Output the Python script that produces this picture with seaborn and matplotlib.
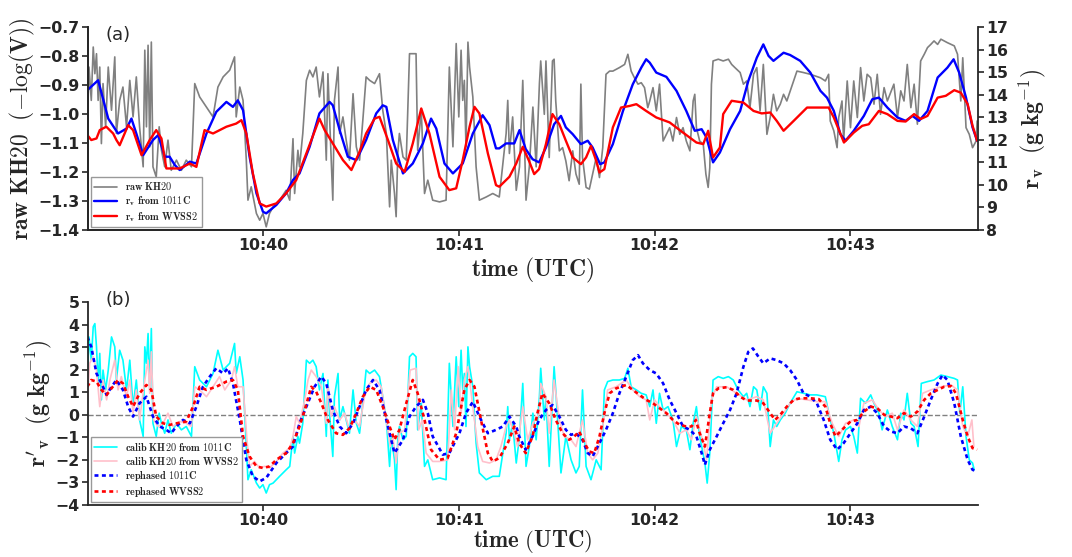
import numpy as np
import matplotlib
matplotlib.use("Agg")
import matplotlib.pyplot as plt
from matplotlib.ticker import FuncFormatter, MultipleLocator
import seaborn as sns

# Zeit in Sekunden nach 10:39:00 UTC

# (a) raw KH20 in -log(V)
raw_kh20 = np.array([
    [6.2, -1.044], [6.7, -0.838], [7.4, -0.953], [8.0, -0.769], [8.5, -0.861], [9.0, -0.792],
    [9.5, -0.953], [10.0, -0.838], [10.5, -1.102], [11.0, -0.895], [11.8, -1.044], [12.6, -0.838],
    [13.6, -0.987], [14.6, -0.803], [15.1, -1.067], [16.1, -0.953], [17.1, -0.907], [18.2, -1.044],
    [19.2, -0.884], [20.2, -1.010], [21.2, -0.872], [22.2, -1.044], [23.3, -1.182], [23.8, -0.780],
    [24.3, -1.044], [24.8, -0.763], [25.3, -1.113], [25.8, -0.752], [26.3, -1.182], [27.3, -1.217],
    [28.2, -1.044], [28.9, -1.125], [29.9, -1.182], [30.9, -1.090], [31.9, -1.194], [33.5, -1.159],
    [35.0, -1.194], [36.5, -1.159], [38.1, -1.182], [39.1, -0.895], [40.6, -0.941], [42.7, -0.976],
    [44.7, -1.010], [46.2, -0.907], [47.8, -0.872], [49.8, -0.849], [51.3, -0.803], [51.8, -1.010],
    [52.9, -0.907], [53.9, -0.953], [54.9, -1.159], [55.4, -1.297], [56.4, -1.251], [58.0, -1.343],
    [59.0, -1.366], [60.0, -1.343], [61.0, -1.389], [62.0, -1.343], [63.1, -1.320], [65.1, -1.297],
    [67.1, -1.263], [68.2, -1.297], [69.2, -1.085], [69.7, -1.274], [70.7, -1.125], [71.2, -1.182],
    [72.2, -1.067], [73.3, -0.884], [74.3, -0.849], [75.3, -0.872], [76.3, -0.838], [77.3, -0.941],
    [78.4, -0.855], [79.4, -1.159], [79.9, -0.861], [80.4, -1.010], [81.4, -1.297], [81.9, -0.953],
    [83.0, -0.838], [83.5, -1.067], [84.5, -1.010], [85.5, -1.090], [86.5, -1.159], [87.6, -0.930],
    [88.6, -1.113], [89.6, -1.159], [90.6, -1.021], [91.6, -0.872], [92.7, -0.884], [94.2, -0.895],
    [95.7, -0.861], [96.7, -0.987], [97.8, -1.067], [98.8, -1.320], [99.3, -1.159], [100.3, -1.274],
    [100.8, -1.354], [101.3, -1.136], [101.8, -1.067], [102.9, -1.148], [103.9, -1.159], [104.9, -0.792],
    [105.9, -0.792], [106.9, -0.792], [107.4, -1.125], [108.5, -0.987], [109.5, -1.274], [110.5, -1.228],
    [112.0, -1.297], [114.1, -1.303], [116.1, -1.297], [117.1, -0.838], [118.2, -1.113], [119.2, -0.757],
    [120.0, -1.010], [120.7, -0.780], [121.2, -0.953], [121.7, -0.884], [122.2, -1.113], [122.8, -0.752],
    [123.3, -0.838], [124.3, -0.941], [125.3, -1.182], [126.3, -1.297], [128.4, -1.286], [130.4, -1.274],
    [132.4, -1.286], [133.5, -1.171], [134.5, -1.067], [135.0, -0.953], [135.5, -1.136], [136.5, -1.010],
    [137.6, -1.263], [138.6, -1.182], [139.6, -0.884], [140.6, -1.297], [141.6, -1.182], [142.7, -0.976],
    [143.7, -1.182], [144.7, -0.895], [145.1, -0.817], [146.2, -1.001], [146.7, -0.817], [147.7, -1.150],
    [148.7, -0.817], [149.2, -0.811], [149.7, -0.955], [150.8, -1.127], [151.8, -1.116], [152.8, -1.162],
    [153.8, -1.230], [154.9, -1.127], [155.9, -1.207], [156.9, -1.242], [157.4, -0.897], [157.9, -1.150],
    [159.0, -1.253], [160.0, -1.259], [161.0, -1.207], [162.1, -1.150], [163.1, -1.219], [164.1, -1.116],
    [165.1, -0.863], [166.2, -0.852], [167.2, -0.852], [169.2, -0.840], [170.8, -0.829], [171.8, -0.794],
    [172.8, -0.852], [173.8, -0.875], [174.9, -0.897], [175.9, -0.892], [176.9, -0.909], [177.9, -0.978],
    [178.5, -0.955], [179.5, -0.909], [180.5, -0.989], [181.5, -0.897], [182.6, -1.093], [183.6, -1.070],
    [184.6, -1.047], [185.6, -1.093], [186.7, -1.012], [187.7, -1.070], [188.7, -1.047], [189.7, -1.093],
    [190.8, -1.127], [191.8, -0.955], [192.3, -0.932], [192.8, -1.047], [193.8, -1.093], [194.9, -1.104],
    [195.7, -1.207], [196.4, -1.253], [196.9, -1.185], [197.4, -0.897], [197.9, -0.817], [199.5, -0.811],
    [201.0, -0.817], [202.6, -0.811], [203.6, -0.829], [204.6, -0.840], [206.2, -0.857], [207.2, -0.897],
    [208.2, -0.886], [209.2, -0.978], [210.3, -0.863], [211.3, -0.840], [212.3, -0.989], [213.3, -0.829],
    [214.4, -1.070], [215.4, -1.012], [216.4, -0.932], [217.4, -0.989], [218.5, -0.966], [219.5, -0.932],
    [220.5, -0.955], [222.6, -0.886], [223.6, -0.852], [225.6, -0.857], [227.7, -0.863], [229.2, -0.869],
    [230.8, -0.875], [232.3, -0.886], [233.3, -0.863], [233.8, -1.024], [234.9, -1.058], [235.9, -1.116],
    [236.4, -1.012], [237.4, -0.955], [237.9, -1.093], [239.0, -0.886], [240.0, -1.047], [241.0, -0.886],
    [242.1, -1.012], [243.1, -0.840], [244.1, -0.955], [245.1, -0.863], [246.2, -0.875], [247.2, -0.966],
    [248.2, -0.863], [249.2, -1.001], [250.3, -0.909], [251.3, -0.955], [253.3, -0.897], [254.4, -1.012],
    [255.4, -0.920], [256.4, -0.955], [257.4, -0.829], [258.5, -0.978], [259.5, -0.897], [260.5, -1.035],
    [261.5, -0.817], [262.6, -0.794], [263.6, -0.771], [264.6, -0.760], [265.6, -0.748], [266.7, -0.760],
    [267.7, -0.742], [269.7, -0.754], [271.8, -0.765], [272.8, -0.794], [273.8, -0.955], [274.4, -0.806],
    [275.4, -1.047], [276.4, -1.070], [277.4, -1.116], [278.5, -1.093], [278.8, -1.024],
])

# (a) r_v in g/kg
rv_1011c = np.array([
    [6.2, 14.20], [9.5, 14.64], [12.6, 12.94], [15.6, 12.28], [18.2, 12.50], [19.7, 12.94],
    [21.2, 12.28], [23.3, 11.32], [26.3, 11.99], [27.9, 12.21], [29.9, 11.25], [31.4, 11.25],
    [33.0, 10.88], [34.5, 10.66], [37.6, 11.03], [39.6, 10.95], [42.7, 12.28], [45.7, 13.24],
    [48.8, 13.68], [50.8, 13.46], [52.3, 13.75], [53.9, 13.31], [55.9, 11.25], [58.0, 9.63],
    [60.0, 8.81], [61.0, 8.74], [64.1, 9.11], [67.1, 9.63], [69.2, 10.22], [71.2, 10.51],
    [74.3, 11.69], [77.3, 13.17], [80.4, 13.68], [81.4, 13.53], [83.5, 12.43], [86.0, 11.25],
    [88.6, 11.10], [91.6, 11.99], [94.7, 13.17], [96.7, 13.53], [97.8, 13.46], [99.8, 11.99],
    [102.9, 10.51], [105.9, 10.95], [109.0, 11.84], [111.5, 12.94], [113.1, 12.50], [115.6, 10.95],
    [118.2, 10.51], [121.2, 10.95], [124.3, 12.28], [127.3, 13.09], [129.4, 12.65], [131.4, 11.62],
    [132.4, 11.62], [134.5, 11.84], [137.0, 11.84], [138.6, 12.43], [140.5, 11.59], [142.6, 11.14],
    [144.6, 11.00], [146.7, 11.66], [149.2, 12.69], [151.3, 13.06], [152.8, 12.55], [154.9, 12.25],
    [157.4, 11.81], [159.5, 11.96], [161.0, 11.66], [163.3, 10.92], [164.6, 11.00], [167.2, 11.81],
    [170.3, 13.28], [173.3, 14.46], [175.9, 15.20], [177.4, 15.57], [178.5, 15.42], [180.5, 14.98],
    [183.6, 14.79], [186.7, 14.17], [189.7, 13.28], [192.3, 12.40], [194.4, 12.47], [195.9, 12.10],
    [197.9, 11.00], [200.0, 11.44], [203.1, 12.47], [206.2, 13.28], [208.7, 14.61], [211.3, 15.64],
    [213.3, 16.23], [214.9, 15.72], [216.4, 15.50], [219.5, 15.86], [221.5, 15.76], [224.6, 15.50],
    [227.7, 14.98], [230.8, 14.17], [232.8, 13.87], [234.9, 13.28], [236.9, 12.25], [238.5, 11.96],
    [241.0, 12.40], [244.1, 13.06], [246.7, 13.80], [248.7, 13.87], [251.3, 13.43], [254.4, 12.99],
    [256.9, 12.84], [259.0, 13.06], [261.0, 12.84], [263.6, 13.28], [266.7, 14.76], [269.7, 15.20],
    [271.6, 15.57], [273.3, 14.98], [275.4, 13.87], [277.4, 12.55], [278.8, 11.96],
])

rv_wvss2 = np.array([
    [6.2, 12.21], [7.4, 11.99], [9.0, 12.06], [10.0, 12.43], [12.0, 12.58], [14.1, 12.28],
    [15.1, 11.99], [16.1, 11.76], [18.7, 12.65], [20.2, 12.43], [22.8, 11.32], [25.3, 11.99],
    [27.3, 12.43], [28.9, 12.06], [30.4, 10.73], [34.5, 10.73], [37.6, 10.95], [39.6, 10.80],
    [42.1, 12.43], [44.7, 12.28], [48.8, 12.58], [51.8, 12.72], [53.4, 12.87], [54.9, 12.28],
    [56.9, 10.51], [59.0, 9.18], [61.0, 9.04], [64.1, 9.18], [67.1, 9.63], [70.2, 10.22],
    [73.3, 11.40], [77.3, 12.94], [78.9, 12.43], [81.4, 11.84], [84.5, 11.10], [87.1, 10.66],
    [89.6, 11.47], [91.6, 12.28], [94.2, 12.94], [95.7, 13.02], [98.3, 11.99], [100.8, 10.95],
    [103.4, 10.58], [105.9, 11.84], [108.5, 13.39], [111.0, 12.28], [114.1, 10.36], [117.1, 9.77],
    [119.2, 9.85], [121.2, 11.10], [123.3, 12.58], [124.8, 13.46], [126.3, 13.17], [128.9, 11.40],
    [131.4, 9.99], [132.4, 9.92], [135.5, 10.36], [137.6, 10.95], [139.6, 11.69], [141.5, 11.07],
    [143.1, 10.48], [144.6, 10.70], [146.7, 11.81], [148.7, 13.14], [150.8, 12.69], [152.8, 11.96],
    [154.9, 11.22], [157.4, 10.92], [159.0, 11.22], [160.5, 11.73], [162.1, 11.07], [163.1, 10.55],
    [164.6, 10.70], [167.2, 12.55], [169.7, 13.43], [172.3, 13.50], [174.4, 13.58], [177.4, 13.28],
    [180.5, 12.99], [184.6, 12.77], [188.7, 12.32], [192.8, 11.88], [194.9, 11.81], [196.4, 12.40],
    [197.9, 11.22], [200.0, 11.66], [201.0, 13.14], [203.6, 13.73], [207.2, 13.65], [210.3, 13.28],
    [212.8, 13.17], [215.4, 13.21], [217.4, 12.84], [219.5, 12.40], [222.6, 12.84], [226.7, 13.43],
    [229.7, 13.43], [233.3, 13.43], [234.9, 12.99], [238.0, 11.88], [241.0, 12.32], [243.6, 12.62],
    [245.6, 12.69], [248.7, 13.28], [251.3, 13.14], [254.4, 12.84], [256.9, 12.81], [259.5, 13.14],
    [261.5, 12.92], [263.6, 13.06], [266.7, 13.87], [269.2, 13.95], [271.8, 14.20], [273.8, 14.09],
    [275.9, 13.58], [277.4, 12.62], [278.8, 11.96],
])

# (b) r_v' in g/kg
calib_1011c = np.array([
    [6.2, 1.54], [6.7, 3.45], [7.4, 2.42], [8.0, 3.90], [8.5, 4.04], [9.0, 3.01], [9.5, 1.39],
    [10.0, 2.72], [10.5, 0.66], [11.0, 1.98], [11.8, 1.10], [12.6, 1.98], [13.6, 3.45], [14.6, 3.01],
    [15.1, 1.54], [16.1, 2.86], [17.1, 2.42], [18.2, 1.10], [19.2, 2.42], [20.2, 0.36], [21.2, 1.54],
    [22.2, -0.23], [23.3, -0.96], [23.8, 3.01], [24.3, 2.28], [24.8, 3.60], [25.3, 1.10], [25.8, 3.82],
    [26.3, -0.38], [27.3, -0.96], [28.2, 0.07], [28.9, -0.38], [29.9, -0.82], [30.9, -0.23],
    [31.9, -0.82], [33.5, -0.38], [35.0, -0.67], [36.5, -0.52], [38.1, -0.96], [39.1, 2.13],
    [40.6, 1.54], [42.7, 1.24], [44.7, 1.83], [46.2, 2.86], [47.8, 1.98], [49.8, 2.28], [51.3, 3.16],
    [51.8, 1.83], [52.9, 2.57], [53.9, 1.54], [54.9, -1.41], [55.4, -2.88], [56.4, -2.44],
    [58.0, -3.03], [59.0, -3.25], [60.0, -3.10], [61.0, -3.47], [62.0, -3.10], [63.1, -3.03],
    [65.1, -2.73], [67.1, -2.44], [68.2, -2.29], [69.2, -0.96], [69.7, -1.70], [70.7, -0.96],
    [71.2, -1.26], [72.2, -0.38], [73.3, 2.42], [74.3, 2.28], [75.3, 2.42], [76.3, 2.13], [77.3, 1.10],
    [78.4, 1.83], [79.4, -0.96], [79.9, 1.54], [80.4, 0.07], [81.4, -1.85], [81.9, 0.80], [83.0, 1.83],
    [83.5, -0.23], [84.5, 0.36], [85.5, -0.23], [86.5, -0.82], [87.6, 1.10], [88.6, -0.38],
    [89.6, -0.82], [90.6, 0.51], [91.6, 1.98], [92.7, 1.83], [94.2, 1.98], [95.7, 1.69], [96.7, 0.80],
    [97.8, -0.23], [98.8, -2.29], [99.3, -0.96], [100.3, -2.00], [100.8, -3.32], [101.3, -1.11],
    [101.8, -0.52], [102.9, -1.11], [103.9, -0.96], [104.9, 2.57], [105.9, 2.72], [106.9, 2.57],
    [107.4, -0.67], [108.5, 0.51], [109.5, -2.29], [110.5, -2.00], [112.0, -2.88], [114.1, -2.80],
    [116.1, -2.88], [117.1, 2.28], [118.2, -0.52], [119.2, 2.57], [120.0, 0.36], [120.7, 2.86],
    [121.2, 1.10], [121.7, 1.83], [122.2, -0.52], [122.8, 3.01], [123.3, 2.13], [124.3, 1.24],
    [125.3, -1.26], [126.3, -2.58], [128.4, -2.88], [130.4, -2.73], [132.4, -2.73], [133.5, -1.70],
    [134.5, -0.82], [135.0, 0.36], [135.5, -1.11], [136.5, -0.38], [137.6, -2.14], [138.6, -0.96],
    [139.6, 1.39], [140.6, -2.29], [141.6, -1.41], [142.7, 0.07], [143.7, -1.11], [144.7, 0.80],
    [145.1, 2.06], [146.2, -0.23], [146.7, 0.80], [147.7, -2.29], [149.2, 2.13], [149.7, 1.10],
    [151.3, -2.58], [152.8, -0.96], [154.4, -2.00], [155.9, -2.58], [156.9, -2.29], [157.9, 1.10],
    [159.0, -2.29], [160.5, -2.88], [162.1, -2.00], [163.6, -2.44], [164.6, 1.10], [165.6, 1.47],
    [167.2, 1.54], [169.2, 1.54], [170.8, 1.61], [171.8, 2.06], [172.8, 1.24], [174.4, 1.10],
    [175.9, 0.95], [177.4, 0.88], [178.5, 0.36], [179.5, 1.10], [180.5, -0.38], [181.5, 0.95],
    [182.6, 0.21], [184.1, 0.36], [185.6, -0.23], [186.7, -1.41], [188.2, -0.52], [189.7, -0.67],
    [190.8, -1.55], [191.8, -0.38], [192.8, 0.36], [193.8, -0.96], [195.4, -2.14], [196.1, -3.03],
    [196.9, -1.70], [197.9, 1.54], [199.5, 1.69], [201.0, 1.61], [202.6, 1.69], [204.1, 1.54],
    [205.6, 1.10], [207.2, 0.80], [208.2, 0.95], [209.2, 0.36], [210.3, 1.24], [211.3, 1.10],
    [212.3, 0.21], [213.3, 1.24], [214.4, 0.95], [215.4, -1.41], [216.4, -0.23], [217.4, -0.52],
    [218.5, -0.23], [220.0, 0.07], [221.5, 0.51], [223.6, 1.02], [225.6, 0.95], [227.7, 0.88],
    [229.7, 0.88], [232.3, 0.80], [233.8, -0.23], [234.9, -0.82], [236.4, -2.07], [237.4, -1.11],
    [238.5, -0.67], [240.0, -0.52], [241.0, -0.96], [242.1, -1.70], [243.1, 0.73], [244.6, 0.51],
    [246.2, 0.88], [247.2, 0.51], [248.7, 0.07], [249.7, -0.67], [251.3, 0.21], [252.8, -0.52],
    [254.4, -1.11], [255.4, 0.07], [256.4, -0.23], [257.4, 0.95], [258.5, -0.38], [259.5, -0.52],
    [260.7, -1.41], [261.7, 1.39], [263.6, 1.47], [265.6, 1.54], [267.7, 1.76], [269.7, 1.69],
    [271.8, 1.61], [272.8, 1.54], [273.5, 0.07], [274.4, 1.24], [275.4, -0.96], [276.4, -2.00],
    [277.4, -2.14], [277.9, -2.44],
])

calib_wvss2 = np.array([
    [6.2, 0.66], [6.9, 2.28], [8.0, 2.57], [9.0, 1.98], [10.0, 0.36], [11.0, 1.54], [12.1, 0.66],
    [13.1, 1.54], [14.6, 2.42], [15.6, 1.10], [16.6, 1.69], [18.2, 0.80], [19.2, 1.54], [20.2, 0.07],
    [21.2, 1.10], [22.2, -0.23], [23.8, 1.54], [24.8, 2.42], [25.3, 0.95], [25.8, 2.79], [26.5, -0.23],
    [27.9, -0.52], [29.4, -0.38], [30.9, 0.07], [32.4, -0.52], [34.5, -0.30], [36.5, -0.38],
    [38.1, -0.52], [39.1, 1.24], [40.6, 1.10], [42.7, 0.80], [44.7, 1.24], [46.7, 1.69], [48.3, 1.10],
    [50.3, 1.54], [51.3, 2.13], [52.3, 1.24], [53.9, 1.24], [55.1, -1.11], [55.9, -2.29], [57.4, -2.07],
    [59.0, -2.36], [60.5, -2.29], [62.0, -2.36], [64.1, -2.07], [66.1, -1.70], [68.2, -1.48],
    [69.2, -0.96], [70.2, -0.08], [71.2, -0.38], [72.8, 0.66], [73.8, 1.54], [74.8, 1.98], [76.3, 1.69],
    [77.9, 1.24], [79.4, -0.38], [79.9, 1.24], [80.9, -0.08], [81.9, 0.36], [83.5, -0.23], [85.0, 0.07],
    [86.5, -0.67], [88.1, -0.23], [89.6, -0.52], [91.1, 0.80], [92.7, 1.39], [94.7, 1.54], [96.2, 1.24],
    [97.8, -0.23], [99.0, -1.41], [99.8, -0.96], [100.8, -2.14], [101.8, -0.82], [103.4, -0.67],
    [105.1, 1.98], [106.9, 2.06], [107.7, -0.67], [108.8, -0.23], [110.0, -1.70], [112.0, -2.07],
    [114.1, -2.07], [116.6, -2.00], [117.7, 1.10], [118.7, -0.67], [119.8, 2.13], [120.7, 0.07],
    [121.7, 1.54], [122.8, 2.13], [124.3, 0.36], [125.8, -1.41], [127.3, -2.07], [129.4, -2.14],
    [131.4, -2.00], [132.9, -1.41], [134.5, -0.52], [135.5, -0.23], [137.0, -0.82], [138.0, -1.41],
    [139.6, 0.36], [141.1, -1.11], [142.7, -0.38], [144.7, 0.07], [145.1, 1.39], [146.7, 0.80],
    [147.7, -0.82], [149.2, 1.54], [150.8, -0.23], [152.3, -0.96], [154.4, -1.11], [155.9, -1.41],
    [157.9, -0.23], [159.5, -1.70], [161.0, -2.00], [162.6, -1.70], [164.1, -0.52], [165.6, 1.10],
    [168.2, 1.24], [171.3, 1.54], [173.3, 1.10], [175.4, 0.80], [177.4, 0.66], [178.5, -0.23],
    [180.0, 0.66], [181.5, 0.36], [183.6, 0.07], [185.6, -0.23], [187.7, -0.82], [189.7, -0.67],
    [191.3, -1.11], [192.8, -0.08], [194.9, -1.26], [195.9, -2.00], [197.4, 0.66], [199.0, 1.24],
    [202.1, 1.24], [205.1, 0.95], [208.2, 0.66], [211.3, 0.80], [213.3, 0.66], [215.4, -0.82],
    [217.4, -0.38], [219.5, 0.07], [221.5, 0.51], [223.6, 0.73], [226.7, 0.66], [229.7, 0.58],
    [232.3, 0.58], [234.4, -0.38], [236.4, -0.96], [238.5, -0.38], [241.0, -0.23], [242.6, -0.52],
    [244.1, 0.51], [246.7, 0.66], [248.7, 0.21], [250.8, -0.08], [252.8, 0.07], [254.4, -0.67],
    [256.4, 0.21], [258.5, -0.23], [260.5, -0.52], [262.1, 0.95], [264.6, 1.10], [267.7, 1.24],
    [270.8, 1.32], [272.8, 1.10], [274.4, -0.52], [275.9, -0.96], [277.2, -0.23], [277.8, -1.41],
])

rephased_1011c = np.array([
    [6.2, 3.45], [7.4, 3.01], [9.0, 1.83], [10.5, 1.39], [12.1, 0.88], [13.6, 1.24], [15.1, 1.54],
    [17.1, 1.10], [18.7, 0.36], [20.2, -0.08], [22.2, 0.51], [24.3, 0.80], [26.3, -0.08], [28.4, -0.52],
    [30.4, -0.67], [31.9, -0.82], [33.5, -0.52], [35.5, -0.23], [37.6, -0.38], [39.6, 0.36],
    [41.6, 1.24], [43.7, 1.69], [45.7, 2.06], [47.8, 1.83], [49.3, 2.06], [50.8, 1.39], [52.9, -0.23],
    [54.9, -2.00], [56.9, -2.73], [59.0, -2.95], [61.0, -2.80], [64.1, -2.14], [67.1, -1.70],
    [69.2, -1.41], [71.2, -0.38], [73.3, 0.36], [75.8, 1.24], [77.9, 1.69], [79.4, 1.39], [81.4, 0.21],
    [83.5, -0.52], [85.5, -0.82], [87.6, -0.38], [89.6, 0.36], [91.6, 1.10], [93.7, 1.54], [95.7, 1.10],
    [97.8, -0.23], [100.3, -1.70], [102.9, -1.11], [104.9, -0.08], [106.9, 0.36], [109.0, 0.66],
    [110.5, 0.07], [112.0, -0.96], [115.1, -1.77], [117.1, -1.70], [120.2, -0.82], [122.2, 0.07],
    [124.3, 0.58], [126.3, -0.08], [128.9, -0.82], [131.4, -0.67], [133.5, -0.52], [135.5, -0.08],
    [137.6, -0.52], [138.5, -0.96], [140.5, -1.55], [142.6, -0.96], [144.6, -0.23], [146.7, 0.21],
    [148.7, 0.43], [150.8, -0.08], [152.8, -0.67], [154.4, -0.89], [155.9, -0.82], [157.9, -1.11],
    [159.5, -1.70], [161.0, -1.85], [163.1, -1.26], [165.1, -0.67], [167.2, 0.07], [169.2, 0.95],
    [171.3, 1.69], [173.3, 2.42], [174.9, 2.64], [176.4, 2.28], [178.5, 1.98], [180.5, 1.83],
    [182.6, 1.39], [184.6, 0.66], [186.7, 0.07], [188.7, -0.52], [190.8, -0.67], [192.8, -0.96],
    [194.4, -1.70], [195.4, -2.22], [196.9, -1.55], [199.0, -0.96], [201.0, -0.38], [203.1, 0.21],
    [205.1, 0.95], [207.2, 2.13], [208.7, 2.79], [210.1, 2.94], [211.8, 2.57], [213.3, 2.28],
    [215.4, 2.50], [217.4, 2.42], [219.5, 2.28], [221.5, 1.98], [223.6, 1.54], [225.6, 0.95],
    [227.7, 0.80], [229.7, 0.51], [231.8, -0.23], [233.8, -1.11], [235.9, -1.55], [237.9, -1.26],
    [240.0, -0.82], [242.1, -0.38], [244.1, 0.21], [246.2, 0.36], [248.2, 0.07], [250.3, -0.52],
    [252.3, -0.74], [254.4, -0.82], [256.4, -0.52], [258.5, -0.60], [260.5, -0.82], [262.6, -0.08],
    [264.6, 0.66], [266.7, 1.39], [268.2, 1.76], [269.7, 1.54], [271.8, 0.51], [273.8, -0.96],
    [275.9, -2.00], [277.4, -2.44], [278.8, -2.51],
])

rephased_wvss2 = np.array([
    [6.2, 1.24], [7.4, 1.54], [9.0, 1.47], [10.5, 1.10], [12.1, 0.88], [13.6, 1.17], [15.6, 1.54],
    [17.1, 1.39], [18.7, 0.80], [20.2, 0.36], [22.2, 0.95], [24.3, 1.32], [25.8, 1.10], [27.3, -0.08],
    [29.4, -0.38], [31.4, -0.45], [33.5, -0.38], [36.5, -0.30], [38.6, 0.36], [40.6, 1.24],
    [42.7, 1.10], [45.7, 1.24], [48.8, 1.47], [50.8, 1.54], [52.3, 1.10], [53.9, -0.96], [55.9, -1.85],
    [58.0, -2.29], [60.0, -2.36], [62.0, -2.29], [64.1, -2.00], [67.1, -1.70], [69.2, -1.26],
    [71.2, -0.52], [72.8, 0.21], [74.8, 1.24], [76.3, 1.02], [77.9, 0.51], [79.9, -0.23], [82.4, -0.82],
    [84.5, -0.89], [86.5, -0.60], [88.6, 0.07], [90.6, 0.80], [92.7, 1.24], [94.7, 1.10], [96.7, 0.36],
    [98.8, -0.52], [100.3, -1.11], [101.8, -0.67], [103.9, 0.51], [105.9, 1.54], [107.4, 0.95],
    [109.5, -0.23], [111.5, -1.55], [114.1, -2.00], [116.6, -1.92], [119.2, -0.82], [121.7, 1.10],
    [123.3, 1.54], [124.8, 1.24], [126.8, -0.23], [128.9, -1.70], [130.4, -2.07], [132.4, -1.92],
    [135.0, -1.26], [137.0, -0.52], [138.5, -1.26], [140.5, -1.70], [142.6, -0.96], [144.1, 0.07],
    [145.6, 0.95], [147.7, 0.51], [149.7, -0.23], [151.8, -0.82], [153.8, -1.11], [155.4, -0.96],
    [156.9, -0.74], [158.5, -1.26], [160.0, -1.63], [161.5, -1.70], [163.1, -0.96], [164.6, 0.07],
    [166.2, 0.95], [168.2, 1.17], [171.3, 1.32], [173.3, 1.10], [175.4, 0.88], [177.4, 0.66],
    [179.5, 0.51], [181.5, 0.29], [183.6, 0.07], [185.6, -0.23], [187.7, -0.45], [189.7, -0.52],
    [191.3, -0.52], [192.6, -0.23], [193.8, -0.82], [195.4, -1.41], [196.9, 0.07], [197.9, 0.95],
    [199.5, 1.17], [202.1, 1.22], [204.1, 1.10], [206.2, 0.80], [208.2, 0.63], [211.3, 0.63],
    [213.3, 0.51], [215.4, 0.07], [216.9, -0.23], [218.5, 0.00], [220.5, 0.36], [222.6, 0.66],
    [224.6, 0.73], [227.7, 0.73], [230.3, 0.69], [232.3, 0.36], [233.8, -0.38], [235.4, -0.96],
    [237.4, -0.67], [240.0, -0.30], [242.1, -0.23], [244.1, 0.14], [246.2, 0.36], [248.2, 0.29],
    [250.3, 0.00], [252.3, -0.08], [254.4, -0.15], [256.4, 0.07], [258.5, -0.08], [260.5, 0.14],
    [262.6, 0.66], [264.6, 0.95], [266.7, 1.10], [268.7, 1.24], [270.8, 1.27], [272.3, 0.95],
    [274.4, -0.23], [275.9, -0.96], [277.4, -1.48], [278.8, -1.55],
])

time_ticks = [60, 120, 180, 240]
t_min, t_max = 6.4, 279.0


def time_fmt(x, pos):
    return f"10:{39 + int(round(x)) // 60:02d}"


def style_time_axis(ax, pad=2):
    ax.set_xlim(t_min, t_max)
    ax.set_xticks(time_ticks)
    ax.xaxis.set_major_formatter(FuncFormatter(time_fmt))
    ax.set_xlabel(r"$\mathbf{time\ (UTC)}$", fontsize=17, labelpad=pad)


sns.set_style("ticks")
plt.rcParams["mathtext.fontset"] = "cm"
plt.rcParams["font.family"] = ["DejaVu Sans"]
plt.rcParams["axes.linewidth"] = 1.3

fig = plt.figure(figsize=(10.72, 5.57), dpi=100)
ax1 = fig.add_axes([0.0821, 0.587, 0.830, 0.3645])
ax2 = fig.add_axes([0.0821, 0.0934, 0.830, 0.3645])

leg_kw = dict(loc="lower left", bbox_to_anchor=(0.0, 0.0), fontsize=7.4, frameon=True,
              fancybox=False, edgecolor="0.6", framealpha=1, handlelength=2.2,
              borderaxespad=0.25, labelspacing=0.2, borderpad=0.35)

# --- (a) ---
sns.lineplot(x=raw_kh20[:, 0], y=raw_kh20[:, 1], ax=ax1, color="gray", lw=1.2,
             estimator=None, sort=False, legend=False, label=r"$\mathbf{raw\ KH}20$")
ax1r = ax1.twinx()
sns.lineplot(x=rv_1011c[:, 0], y=rv_1011c[:, 1], ax=ax1r, color="blue", lw=1.7,
             estimator=None, sort=False, legend=False, label=r"$\mathbf{r_v\ from}\ 1011\mathbf{C}$")
sns.lineplot(x=rv_wvss2[:, 0], y=rv_wvss2[:, 1], ax=ax1r, color="red", lw=1.7,
             estimator=None, sort=False, legend=False, label=r"$\mathbf{r_v\ from\ WVSS}2$")

ax1.set_ylim(-1.4, -0.7)
ax1.yaxis.set_major_locator(MultipleLocator(0.1))
ax1r.set_ylim(8, 17)
ax1r.yaxis.set_major_locator(MultipleLocator(1))
style_time_axis(ax1)
style_time_axis(ax1r)
ax1r.set_xlabel("")
ax1.set_ylabel(r"$\mathbf{raw\ KH20\ \ (-\log(V))}$", fontsize=17, labelpad=1)
ax1r.set_ylabel(r"$\mathbf{r_v\ \ (g\ kg^{-1})}$", fontsize=17, labelpad=6)
for a in (ax1, ax1r):
    a.spines["top"].set_visible(False)
ax1.spines["right"].set_visible(False)
ax1.text(0.02, 0.96, "(a)", transform=ax1.transAxes, fontsize=13, va="center")

h1, l1 = ax1.get_legend_handles_labels()
h2, l2 = ax1r.get_legend_handles_labels()
ax1r.legend(h1 + h2, l1 + l2, **leg_kw)

# --- (b) ---
ax2.axhline(0, color="gray", ls="--", lw=1)
sns.lineplot(x=calib_1011c[:, 0], y=calib_1011c[:, 1], ax=ax2, color="cyan", lw=1.2,
             estimator=None, sort=False, legend=False,
             label=r"$\mathbf{calib\ KH}20\ \mathbf{from}\ 1011\mathbf{C}$")
sns.lineplot(x=calib_wvss2[:, 0], y=calib_wvss2[:, 1], ax=ax2, color="pink", lw=1.2,
             estimator=None, sort=False, legend=False,
             label=r"$\mathbf{calib\ KH}20\ \mathbf{from\ WVSS}2$")
sns.lineplot(x=rephased_1011c[:, 0], y=rephased_1011c[:, 1], ax=ax2, color="blue", lw=1.9,
             linestyle=(0, (1.5, 1.3)), estimator=None, sort=False, legend=False,
             label=r"$\mathbf{rephased}\ 1011\mathbf{C}$")
sns.lineplot(x=rephased_wvss2[:, 0], y=rephased_wvss2[:, 1], ax=ax2, color="red", lw=1.9,
             linestyle=(0, (1.5, 1.3)), estimator=None, sort=False, legend=False,
             label=r"$\mathbf{rephased\ WVSS}2$")

ax2.set_ylim(-4, 5)
ax2.yaxis.set_major_locator(MultipleLocator(1))
style_time_axis(ax2, pad=0)
ax2.xaxis.label.set_fontsize(16.5)
ax2.set_ylabel(r"$\mathbf{r'_v\ \ (g\ kg^{-1})}$", fontsize=17, labelpad=1)
ax2.spines["top"].set_visible(False)
ax2.spines["right"].set_visible(False)
ax2.text(0.02, 1.01, "(b)", transform=ax2.transAxes, fontsize=13, va="center")
ax2.legend(**leg_kw)

for a in (ax1, ax1r, ax2):
    a.tick_params(labelsize=11.3, width=1.2, length=4, pad=2)
    for lab in a.get_xticklabels() + a.get_yticklabels():
        lab.set_fontweight("bold")

fig.savefig("out.png", dpi=100)
